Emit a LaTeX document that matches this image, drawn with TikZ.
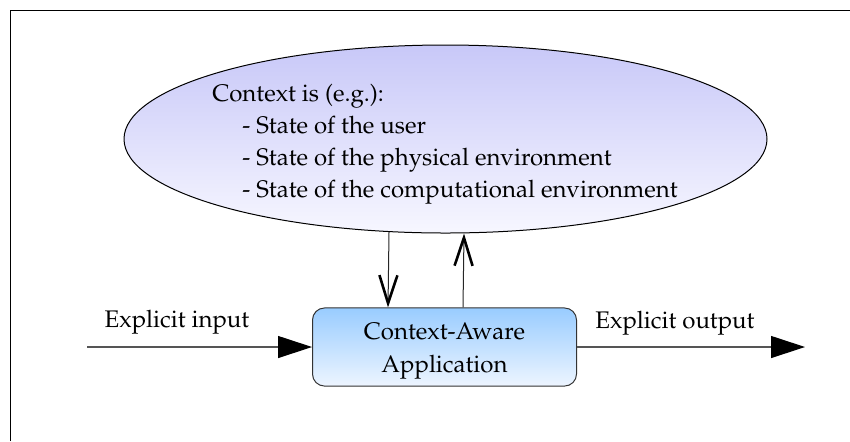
\documentclass[tikz,border=0pt]{standalone}
\usepackage[T1]{fontenc}
\usepackage{mathpazo}
\usetikzlibrary{shapes.geometric,arrows.meta,positioning}

\definecolor{ctxtop}{HTML}{C8C8F8}
\definecolor{ctxbot}{HTML}{F7F7FF}
\definecolor{apptop}{HTML}{99CCFF}
\definecolor{appbot}{HTML}{EDF5FF}
\definecolor{shaft}{HTML}{555555}

\tikzset{
	txt/.style={font=\fontsize{12}{16}\selectfont, inner sep=0pt},
	ctxblob/.style={ellipse, draw=black, line width=0.5pt, minimum width=321.5pt, minimum height=94pt, top color=ctxtop, bottom color=ctxbot},
	appbox/.style={draw=black!80, line width=0.5pt, rounded corners=6pt, minimum width=132pt, minimum height=38pt, top color=apptop, bottom color=appbot, align=center, font=\fontsize{12}{16.5}\selectfont},
	flow/.style={draw=shaft, line width=0.6pt, -{Triangle[length=17pt,width=11pt,color=black]}},
	ctxflow/.style={draw=black!85, line width=0.5pt, -{Straight Barb[length=14pt,width=9pt,line width=1.3pt,color=black]}}
}

\begin{document}
\begin{tikzpicture}[x=0.5pt,y=-0.5pt]
		\useasboundingbox (0,0) rectangle (850,441);
		%\draw [help lines] (0,0) grid[step=50] (850,441);
		\draw[line width=0.5pt] (10,441) -- (10,10) -- (850,10);

		\node[ctxblob] (ctx) at (445.5,139) {};
		\node[txt, align=left] (ctxtext) at (445,144) {Context is (e.g.):\\
			\hspace*{15pt}- State of the user\\
			\hspace*{15pt}- State of the physical environment\\
			\hspace*{15pt}- State of the computational environment};

		\node[appbox] (app) at (444.5,347) {\rule{0pt}{12.5pt}Context-Aware\\Application};

		\coordinate (in) at (87,347);
		\coordinate (out) at (805,347);

		\draw[flow] (in) -- (app.west);
		\draw[flow] (app.east) -- (out);

		\node[txt] (inlabel) at (177,322) {Explicit input};
		\node[txt] (outlabel) at (675,323) {Explicit output};

		\draw[ctxflow] ([xshift=-28.25pt]ctx.south |- 0,232) -- ([xshift=-28.25pt]app.north);
		\draw[ctxflow] ([xshift=9.25pt]app.north) -- ([xshift=9.25pt]ctx.south |- 0,233.5);
\end{tikzpicture}
\end{document}
